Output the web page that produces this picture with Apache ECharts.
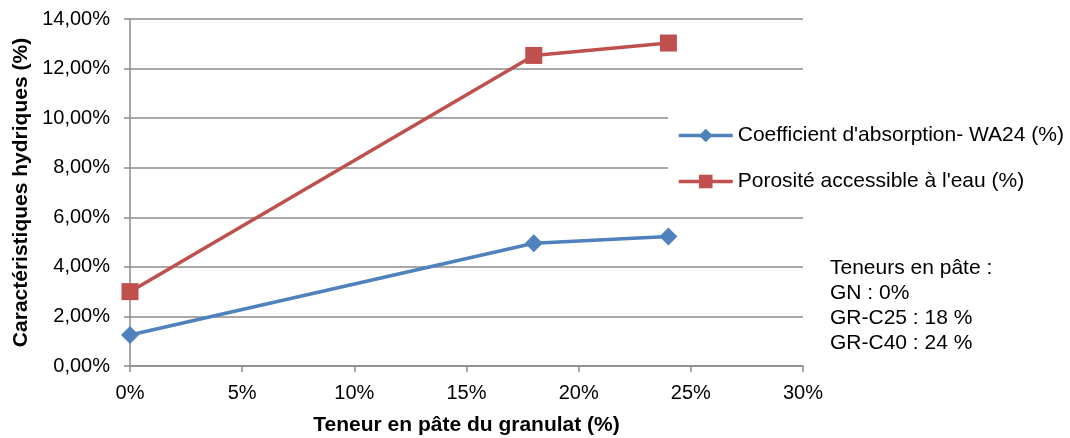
<!DOCTYPE html>
<html>
<head>
<meta charset="utf-8">
<script src="https://cdn.jsdelivr.net/npm/echarts@6/dist/echarts.min.js"></script>
<style>
  html, body { margin: 0; padding: 0; background: #fff; }
  #chart { width: 1070px; height: 438px; }
</style>
</head>
<body>
<div id="chart"></div>
<script>
// Data
const teneurs = [0, 18, 24]
const absorption = [1.25, 4.95, 5.22]
const porosite = [3.0, 12.53, 13.03]
const seriesNames = ["Coefficient d'absorption- WA24 (%)", "Porosité accessible à l'eau (%)"]
const noteLines = ['Teneurs en pâte :', 'GN : 0%', 'GR-C25 : 18 %', 'GR-C40 : 24 %']

const font = 'Liberation Sans, Arial, sans-serif'
const chart = echarts.init(document.getElementById('chart'))

const options = {
  animation: false,
  textStyle: { fontFamily: font },
  grid: { left: 130, right: 267, top: 19, bottom: 72, outerBoundsMode: 'none' },
  legend: {
    orient: 'vertical',
    left: 668,
    top: 115,
    itemWidth: 54,
    itemHeight: 17,
    itemGap: 25,
    padding: [10, 10, 10, 9],
    backgroundColor: '#fff',
    lineStyle: { width: 3.5 },
    textStyle: { fontSize: 21, color: '#000', fontFamily: font },
    data: seriesNames
  },
  xAxis: {
    type: 'value',
    min: 0,
    max: 30,
    interval: 5,
    name: 'Teneur en pâte du granulat (%)',
    nameLocation: 'middle',
    nameGap: 49,
    nameTextStyle: { fontSize: 21, fontWeight: 'bold', color: '#000' },
    axisLine: { lineStyle: { color: '#8c8c8c', width: 1.5 } },
    axisTick: { show: true, length: 6, lineStyle: { color: '#8c8c8c', width: 1.5 } },
    axisLabel: { fontSize: 20, color: '#000', margin: 17, formatter: '{value}%' },
    splitLine: { show: false }
  },
  yAxis: {
    type: 'value',
    min: 0,
    max: 14,
    interval: 2,
    name: 'Caractéristiques hydriques (%)',
    nameLocation: 'middle',
    nameGap: 98,
    nameTextStyle: { fontSize: 21, fontWeight: 'bold', color: '#000' },
    axisLine: { show: true, lineStyle: { color: '#8c8c8c', width: 1.5 } },
    axisTick: { show: true, length: 6, lineStyle: { color: '#8c8c8c', width: 1.5 } },
    axisLabel: {
      fontSize: 20, color: '#000', margin: 20,
      formatter: v => v.toFixed(2).replace('.', ',') + '%'
    },
    splitLine: { lineStyle: { color: '#8c8c8c', width: 1.5 } }
  },
  series: [
    {
      name: seriesNames[0],
      type: 'line',
      data: teneurs.map((x, i) => [x, absorption[i]]),
      symbol: 'diamond',
      symbolSize: 18,
      lineStyle: { color: '#4f81bd', width: 3.5 },
      itemStyle: { color: '#4f81bd' }
    },
    {
      name: seriesNames[1],
      type: 'line',
      data: teneurs.map((x, i) => [x, porosite[i]]),
      symbol: 'rect',
      symbolSize: 17,
      lineStyle: { color: '#c0504d', width: 3.5 },
      itemStyle: { color: '#c0504d' }
    }
  ],
  graphic: [
    {
      type: 'text',
      left: 830,
      top: 256,
      style: {
        text: noteLines.join('\n'),
        fontSize: 21,
        lineHeight: 25,
        fill: '#000',
        fontFamily: font
      }
    }
  ]
}

chart.setOption(options)
</script>
</body>
</html>
